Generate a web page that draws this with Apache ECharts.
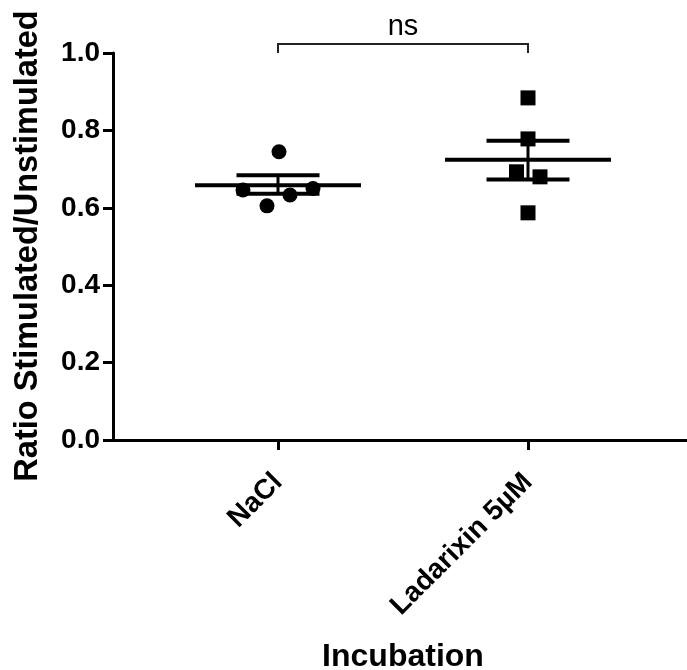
<!DOCTYPE html>
<html>
<head>
<meta charset="utf-8">
<title>Ratio Stimulated/Unstimulated by incubation</title>
<script src="https://cdn.jsdelivr.net/npm/echarts@6/dist/echarts.min.js"></script>
<style>
  html, body { margin: 0; padding: 0; background: #fff; }
  #chart { width: 687px; height: 670px; }
</style>
</head>
<body>
<div id="chart"></div>
<script>
// Groups on the x axis (group i sits at x = i + 1)
const groups = ['NaCl', 'Ladarixin 5\u00b5M'];

// Individual measurements per group
const naclValues = [0.646, 0.605, 0.745, 0.633, 0.650];
const naclJitter = [-0.14, -0.044, 0.004, 0.048, 0.14];
const ladarixinValues = [0.884, 0.778, 0.693, 0.680, 0.587];
const ladarixinJitter = [0, 0, -0.046, 0.048, 0];

// Mean and SEM bounds per group
const means = [0.658, 0.724];
const semLow = [0.636, 0.673];
const semHigh = [0.684, 0.773];

// Y axis ticks
const yTicks = [0, 0.2, 0.4, 0.6, 0.8, 1.0];

// Significance annotation between the two groups
const comparisonLabel = 'ns';

const FONT = "'Liberation Sans', Arial, Helvetica, sans-serif";
const chart = echarts.init(document.getElementById('chart'), null, { renderer: 'canvas' });

const groupX = groups.map((g, i) => i + 1);
const pts = (vals, jit, gi) => vals.map((v, i) => [groupX[gi] + jit[i], v]);

const summary = groups.map((g, i) => [groupX[i], means[i], semLow[i], semHigh[i]]);

const option = {
  animation: false,
  backgroundColor: '#ffffff',
  grid: {
    left: 113, right: 0, top: 53, bottom: 230,
    containLabel: false,
    outerBoundsMode: 'none'
  },
  xAxis: {
    type: 'value',
    min: 0.34,
    max: 2.636,
    splitLine: { show: false },
    axisLine: { show: true, onZero: false, lineStyle: { color: '#000', width: 3 } },
    axisTick: { show: true, length: 10, customValues: groupX, lineStyle: { color: '#000', width: 3 } },
    axisLabel: {
      customValues: groupX,
      rotate: 45,
      margin: 38,
      align: 'right',
      verticalAlign: 'middle',
      color: '#000',
      fontFamily: FONT,
      fontWeight: 'bold',
      fontSize: 28,
      formatter: v => groups[Math.round(v) - 1] || ''
    }
  },
  yAxis: {
    type: 'value',
    min: yTicks[0],
    max: yTicks[yTicks.length - 1],
    interval: 0.2,
    splitLine: { show: false },
    axisLine: { show: true, lineStyle: { color: '#000', width: 3 } },
    axisTick: { show: true, length: 10, lineStyle: { color: '#000', width: 3 } },
    axisLabel: {
      margin: 13,
      color: '#000',
      fontFamily: FONT,
      fontWeight: 'bold',
      fontSize: 28,
      formatter: v => v.toFixed(1)
    }
  },
  graphic: [
    {
      type: 'text',
      x: 28, y: 246,
      rotation: Math.PI / 2,
      style: {
        text: 'Ratio Stimulated/Unstimulated',
        fontFamily: FONT, fontWeight: 'bold', fontSize: 32.5,
        fill: '#000', align: 'center', verticalAlign: 'middle'
      }
    },
    {
      type: 'text',
      x: 403, y: 657,
      style: {
        text: 'Incubation',
        fontFamily: FONT, fontWeight: 'bold', fontSize: 32,
        fill: '#000', align: 'center', verticalAlign: 'middle'
      }
    }
  ],
  series: [
    {
      // mean line with SEM whiskers
      type: 'custom',
      z: 2,
      data: summary,
      renderItem: (params, api) => {
        const x = api.value(0);
        const c = api.coord([x, api.value(1)]);
        const lo = api.coord([x, api.value(2)]);
        const hi = api.coord([x, api.value(3)]);
        const halfMean = api.size([0.332, 0])[0];
        const halfCap = api.size([0.166, 0])[0];
        const st = { stroke: '#000', lineWidth: 4 };
        return {
          type: 'group',
          children: [
            { type: 'line', shape: { x1: c[0] - halfMean, y1: c[1], x2: c[0] + halfMean, y2: c[1] }, style: st },
            { type: 'line', shape: { x1: c[0], y1: lo[1], x2: c[0], y2: hi[1] }, style: { stroke: '#000', lineWidth: 3 } },
            { type: 'line', shape: { x1: c[0] - halfCap, y1: hi[1], x2: c[0] + halfCap, y2: hi[1] }, style: st },
            { type: 'line', shape: { x1: c[0] - halfCap, y1: lo[1], x2: c[0] + halfCap, y2: lo[1] }, style: st }
          ]
        };
      }
    },
    {
      type: 'scatter',
      z: 3,
      symbol: 'circle',
      symbolSize: 15,
      itemStyle: { color: '#000', opacity: 1 },
      data: pts(naclValues, naclJitter, 0)
    },
    {
      type: 'scatter',
      z: 3,
      symbol: 'rect',
      symbolSize: 15,
      itemStyle: { color: '#000', opacity: 1 },
      data: pts(ladarixinValues, ladarixinJitter, 1)
    },
    {
      // significance bracket between the groups
      type: 'custom',
      z: 2,
      clip: false,
      data: [[groupX[0], groupX[1], 1.023, 1.0]],
      renderItem: (params, api) => {
        const a = api.coord([api.value(0), api.value(2)]);
        const b = api.coord([api.value(1), api.value(2)]);
        const tip = api.coord([api.value(0), api.value(3)]);
        return {
          type: 'group',
          children: [
            {
              type: 'polyline',
              shape: { points: [[a[0], tip[1]], a, b, [b[0], tip[1]]] },
              style: { stroke: '#222', lineWidth: 2, fill: null }
            },
            {
              type: 'text',
              x: (a[0] + b[0]) / 2,
              y: a[1] - 3,
              style: {
                text: comparisonLabel,
                fontFamily: FONT, fontSize: 29, fill: '#000',
                align: 'center', verticalAlign: 'bottom'
              }
            }
          ]
        };
      }
    }
  ]
};

chart.setOption(option);
</script>
</body>
</html>
